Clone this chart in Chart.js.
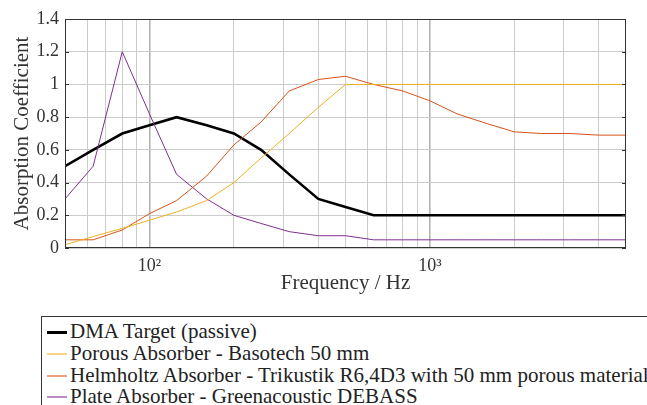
<!DOCTYPE html>
<html lang="en">
<head>
<meta charset="UTF-8">
<title>Absorption Coefficient</title>
<script src="https://cdn.jsdelivr.net/npm/chart.js"></script>
<style>
  html, body { margin: 0; padding: 0; background: #fff; overflow: hidden; }
  #wrap { position: relative; width: 647px; height: 405px; }
  #chartBox { position: absolute; left: 0; top: 0; width: 647px; height: 310px; }
  #legend {
    position: absolute; left: 41px; top: 316px; width: 700px; height: 120px;
    border-top: 1px solid #333; border-left: 1px solid #333;
    font-family: 'Liberation Serif', serif; font-size: 21px; color: #222;
  }
  .row { height: 21.8px; line-height: 21.8px; white-space: nowrap; position: relative; padding-left: 28px; }
  .row:first-child { margin-top: 4px; }
  .swatch { position: absolute; left: 5px; top: 10px; width: 20px; }
</style>
</head>
<body>
<div id="wrap">
  <div id="chartBox"><canvas id="chart"></canvas></div>
  <div id="legend"></div>
</div>
<script>
// third-octave band centre frequencies (Hz)
var freqs = [50, 63, 80, 100, 125, 160, 200, 250, 315, 400, 500, 630, 800, 1000, 1250, 1600, 2000, 2500, 3150, 4000, 5000];

var dmaTarget = [0.5, 0.6, 0.7, 0.75, 0.8, 0.75, 0.7, 0.6, 0.45, 0.3, 0.25, 0.2, 0.2, 0.2, 0.2, 0.2, 0.2, 0.2, 0.2, 0.2, 0.2];
var porous    = [0.02, 0.07, 0.12, 0.17, 0.22, 0.29, 0.40, 0.55, 0.70, 0.86, 1.0, 1.0, 1.0, 1.0, 1.0, 1.0, 1.0, 1.0, 1.0, 1.0, 1.0];
var helmholtz = [0.05, 0.05, 0.11, 0.21, 0.29, 0.44, 0.63, 0.77, 0.96, 1.03, 1.05, 1.0, 0.96, 0.90, 0.82, 0.76, 0.71, 0.70, 0.70, 0.69, 0.69];
var plate     = [0.3, 0.5, 1.2, 0.82, 0.45, 0.3, 0.2, 0.15, 0.1, 0.075, 0.075, 0.05, 0.05, 0.05, 0.05, 0.05, 0.05, 0.05, 0.05, 0.05, 0.05];

var seriesLabels = [
  'DMA Target (passive)',
  'Porous Absorber - Basotech 50 mm',
  'Helmholtz Absorber - Trikustik R6,4D3 with 50 mm porous material',
  'Plate Absorber - Greenacoustic DEBASS'
];
var seriesColors = ['#000000', '#EDB120', '#D95319', '#7E2F8E'];
var seriesWidths = [2.6, 1, 1, 1];

var xGridValues = [60, 70, 80, 90, 100, 200, 300, 400, 500, 600, 700, 800, 900, 1000, 2000, 3000, 4000];
var yTicks = [0, 0.2, 0.4, 0.6, 0.8, 1, 1.2, 1.4];

function toPoints(arr) {
  return freqs.map(function (f, i) { return { x: f, y: arr[i] }; });
}

var allSeries = [dmaTarget, porous, helmholtz, plate];
var datasets = allSeries.map(function (s, i) {
  return {
    label: seriesLabels[i],
    data: toPoints(s),
    borderColor: seriesColors[i],
    borderWidth: seriesWidths[i],
    pointRadius: 0,
    tension: 0,
    fill: false
  };
});
// draw the black target on top
datasets.push(datasets.shift());

var framePlugin = {
  id: 'frame',
  afterDraw: function (chart) {
    var a = chart.chartArea, ctx = chart.ctx, y = chart.scales.y;
    ctx.save();
    ctx.strokeStyle = '#333';
    ctx.lineWidth = 1;
    ctx.strokeRect(a.left + 0.5, a.top + 0.5, a.right - a.left - 1, a.bottom - a.top - 1);
    ctx.beginPath();
    yTicks.forEach(function (v) {
      var py = Math.round(y.getPixelForValue(v)) + 0.5;
      ctx.moveTo(a.right - 4, py); ctx.lineTo(a.right, py);
      ctx.moveTo(a.left, py); ctx.lineTo(a.left + 4, py);
    });
    ctx.stroke();
    ctx.restore();
  }
};

Chart.defaults.font.family = "'Liberation Serif', serif";
Chart.defaults.color = '#333';

new Chart(document.getElementById('chart'), {
  type: 'line',
  data: { datasets: datasets },
  options: {
    responsive: true,
    maintainAspectRatio: false,
    animation: false,
    layout: { padding: { top: 19, right: 21, left: 0, bottom: 0 } },
    plugins: { legend: { display: false }, tooltip: { enabled: false } },
    scales: {
      x: {
        type: 'logarithmic',
        min: 50,
        max: 5000,
        afterBuildTicks: function (scale) {
          scale.ticks = xGridValues.map(function (v) { return { value: v }; });
        },
        afterFit: function (scale) { scale.height = 62; },
        border: { display: false },
        grid: {
          drawTicks: false,
          color: function (c) {
            return c.tick && (c.tick.value === 100 || c.tick.value === 1000) ? '#b4b4b4' : '#cccccc';
          },
          lineWidth: function (c) {
            return c.tick && (c.tick.value === 100 || c.tick.value === 1000) ? 1.6 : 1;
          }
        },
        ticks: {
          autoSkip: false,
          maxRotation: 0,
          padding: 7,
          font: { size: 18 },
          callback: function (v) {
            if (v === 100) return '10\u00B2';
            if (v === 1000) return '10\u00B3';
            return '';
          }
        },
        title: { display: true, text: 'Frequency / Hz', font: { size: 21 }, padding: { top: 0, bottom: 14 } }
      },
      y: {
        min: 0,
        max: 1.4,
        afterBuildTicks: function (scale) {
          scale.ticks = yTicks.map(function (v) { return { value: v }; });
        },
        afterFit: function (scale) { scale.width = 65; },
        border: { display: false },
        grid: { drawTicks: false, color: '#cccccc' },
        ticks: {
          padding: 6,
          font: { size: 18 },
          callback: function (v) { return String(Math.round(v * 10) / 10); }
        },
        title: { display: true, text: 'Absorption Coefficient', font: { size: 21 }, padding: { top: 10, bottom: 0 } }
      }
    }
  },
  plugins: [framePlugin]
});

// legend below the chart
var legend = document.getElementById('legend');
seriesLabels.forEach(function (lab, i) {
  var row = document.createElement('div');
  row.className = 'row';
  var sw = document.createElement('span');
  sw.className = 'swatch';
  sw.style.borderTop = (i === 0 ? 3 : 2) + 'px solid ' + seriesColors[i];
  if (i > 0) sw.style.opacity = 0.55;
  row.appendChild(sw);
  row.appendChild(document.createTextNode(lab));
  legend.appendChild(row);
});
</script>
</body>
</html>
